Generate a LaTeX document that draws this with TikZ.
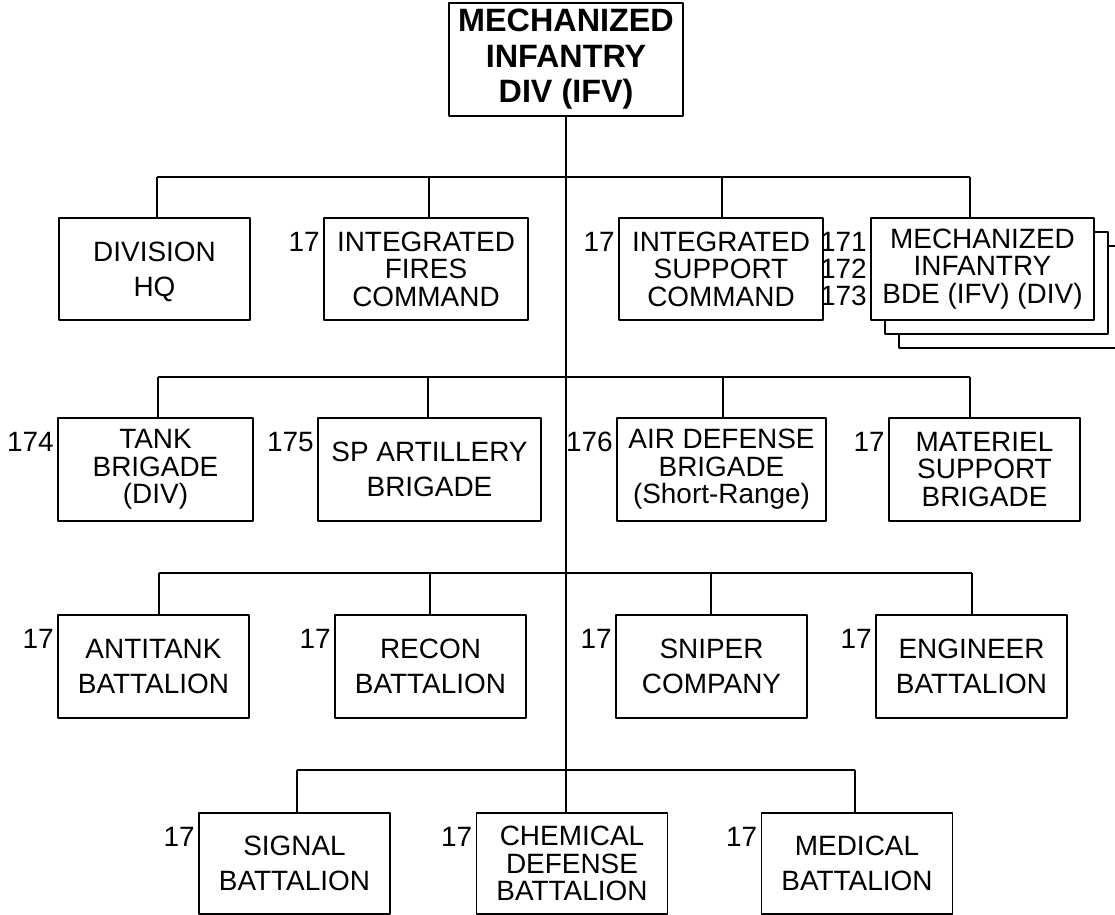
\documentclass[tikz,border=0pt]{standalone}
\usepackage{fontspec}
\setmainfont{Liberation Sans}
\usetikzlibrary{shadows}

\begin{document}
\begin{tikzpicture}[x=0.02cm, y=-0.02cm, line width=1pt, line join=round,
	unit/.style={draw, fill=white, align=center, inner sep=0pt, minimum width=3.82cm, minimum height=2.06cm, font=\fontsize{15.9}{15.6}\selectfont},
	wide/.style={font=\fontsize{15.9}{19.8}\selectfont, text depth=-0.18cm},
	tag/.style={inner sep=1.5pt, anchor=east, font=\fontsize{15.9}{15.6}\selectfont}]
	\useasboundingbox (0,0) rectangle (1115,915);
	% division
	\node[unit, minimum width=4.68cm, minimum height=2.26cm, font=\fontsize{18.4}{20.2}\selectfont\bfseries] (div) at (566,59.5) {MECHANIZED\\INFANTRY\\DIV (IFV)};
	% first row
	\node[unit, wide, minimum height=2.04cm] (hq) at (154.5,269) {DIVISION\\HQ};
	\node[unit, minimum height=2.04cm, minimum width=4.08cm] (ifc) at (426,269) {INTEGRATED\\FIRES\\COMMAND};
	\node[unit, minimum height=2.04cm, minimum width=4.08cm] (isc) at (721,269) {INTEGRATED\\SUPPORT\\COMMAND};
	\begin{scope}
		\clip (0,0) rectangle (1115,915);
		\node[unit, minimum height=2.04cm, minimum width=4.46cm, copy shadow={shadow xshift=0.56cm, shadow yshift=-0.56cm}, copy shadow={shadow xshift=0.28cm, shadow yshift=-0.28cm}] (mib) at (982.5,269) {MECHANIZED\\INFANTRY\\BDE (IFV) (DIV)};
	\end{scope}
	% second row
	\node[unit, minimum width=3.9cm] (tank) at (155.5,469.5) {TANK\\BRIGADE\\(DIV)};
	\node[unit, wide, minimum width=4.46cm] (spa) at (429.5,469.5) {SP ARTILLERY\\BRIGADE};
	\node[unit, minimum width=4.18cm] (adb) at (721.5,469.5) {AIR DEFENSE\\BRIGADE\\(Short-Range)};
	\node[unit] (msb) at (984.5,469.5) {MATERIEL\\SUPPORT\\BRIGADE};
	% third row
	\node[unit, wide] (atk) at (153.5,666.5) {ANTITANK\\BATTALION};
	\node[unit, wide] (rcn) at (430.5,666.5) {RECON\\BATTALION};
	\node[unit, wide] (snp) at (711.5,666.5) {SNIPER\\COMPANY};
	\node[unit, wide] (eng) at (971.5,666.5) {ENGINEER\\BATTALION};
	% fourth row
	\node[unit, wide, minimum height=2.02cm] (sig) at (294.5,863.5) {SIGNAL\\BATTALION};
	\node[unit, minimum height=2.02cm] (chm) at (572,863.5) {CHEMICAL\\DEFENSE\\BATTALION};
	\node[unit, wide, minimum height=2.02cm] (med) at (857,863.5) {MEDICAL\\BATTALION};
	% numbers
	\foreach \n/\t in {ifc/17, isc/17, tank/174, spa/175, adb/176, msb/17, atk/17, rcn/17, snp/17, eng/17, sig/17, chm/17, med/17}
		\node[tag] (t\n) at ([yshift=-0.5cm]\n.north west) {\t};
	\node[tag, align=right] (tmib) at (mib.west) {171\\172\\173};
	% lines
	\draw (div.south) -- (div.south |- chm.north);
	\foreach \n/\x in {hq/157, ifc/429, isc/722, mib/970} {\coordinate (j\n) at (\x,177); \draw (j\n) -- (j\n |- \n.north);}
	\foreach \n/\x in {tank/158, spa/428, adb/723, msb/970} {\coordinate (j\n) at (\x,377); \draw (j\n) -- (j\n |- \n.north);}
	\foreach \n/\x in {atk/159, rcn/430, snp/711, eng/972} {\coordinate (j\n) at (\x,573); \draw (j\n) -- (j\n |- \n.north);}
	\foreach \n/\x in {sig/297, med/855} {\coordinate (j\n) at (\x,770); \draw (j\n) -- (j\n |- \n.north);}
	\draw (jhq) -- (jmib) (jtank) -- (jmsb) (jatk) -- (jeng) (jsig) -- (jmed);
\end{tikzpicture}
\end{document}
